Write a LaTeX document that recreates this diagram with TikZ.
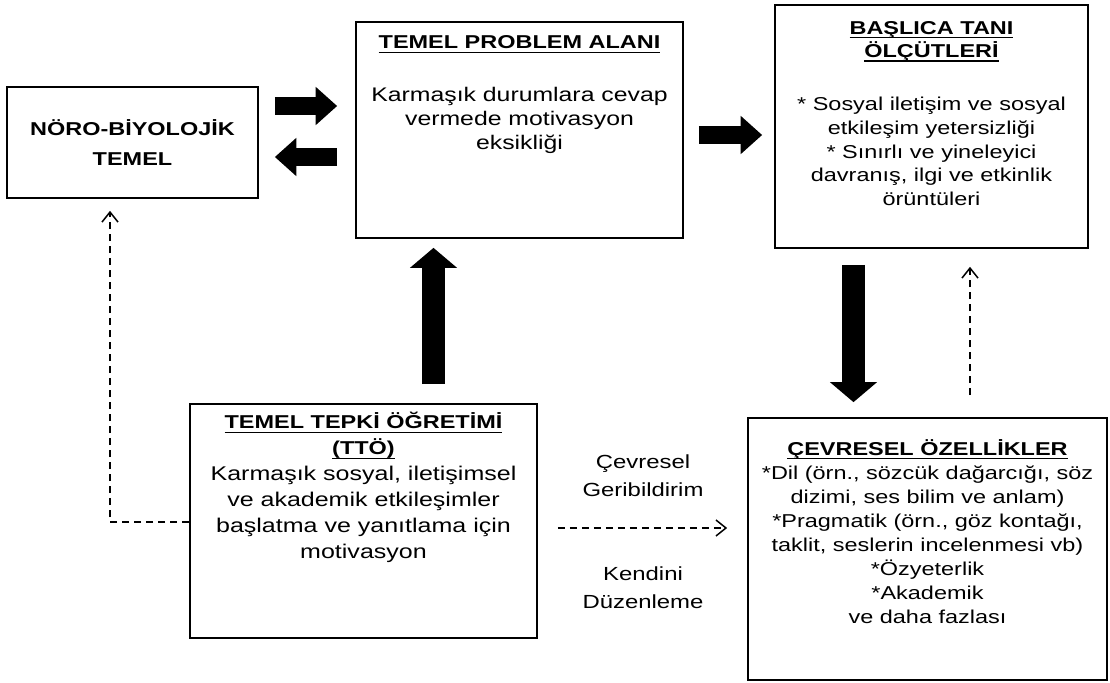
\documentclass[tikz,border=0pt]{standalone}
\usepackage{fontspec}
\setmainfont{Liberation Sans}[FakeStretch=1.26]
\usetikzlibrary{arrows.meta}
\setlength{\lineskiplimit}{-20pt}

\newsavebox{\titlebox}
\newcommand{\boxtitle}[1]{{\fontsize{10.6}{\baselineskip}\selectfont
  \sbox{\titlebox}{\textbf{#1}}\rlap{\usebox{\titlebox}}\rule[-2.3pt]{\wd\titlebox}{0.75pt}}}

\tikzset{
  frame/.style={draw, line width=1pt, inner sep=0pt},
  txt/.style={align=center, inner sep=0pt, font=\fontsize{10.6}{13.4}\selectfont},
  harrow/.style={line width=0.35cm, -{Triangle[length=0.43cm,width=0.74cm]}},
  varrow/.style={line width=0.46cm, -{Triangle[length=0.4cm,width=0.92cm]}},
  dasharrow/.style={line width=0.85pt, dash pattern=on 0.14cm off 0.1cm, -{Straight Barb[length=0.2cm,width=0.32cm]}}
}

\begin{document}
\begin{tikzpicture}[x=0.02cm, y=-0.02cm]
  \useasboundingbox (0,0) rectangle (1110,683);

  % the five boxes
  \node[frame, minimum width=5.02cm, minimum height=2.22cm, align=center,
        font=\bfseries\fontsize{10.6}{17}\selectfont] (neuro) at (132.5,142.5) {NÖRO-BİYOLOJİK\\TEMEL};
  \node[frame, minimum width=6.54cm, minimum height=4.32cm] (problem) at (519.5,130) {};
  \node[frame, minimum width=6.26cm, minimum height=4.86cm] (criteria) at (931.5,126.5) {};
  \node[frame, minimum width=6.94cm, minimum height=4.68cm] (tto) at (363.5,521) {};
  \node[frame, minimum width=7.18cm, minimum height=5.24cm] (env) at (927.5,549) {};

  % box texts
  \node[txt, anchor=north, font=\fontsize{11.2}{13.7}\selectfont] (problemtxt) at ([yshift=-0.29cm]problem.north)
    {\boxtitle{TEMEL PROBLEM ALANI}\\[16pt]Karmaşık durumlara cevap\\vermede motivasyon\\eksikliği};
  \node[txt, anchor=north] (criteriatxt) at ([yshift=-0.33cm]criteria.north)
    {\boxtitle{BAŞLICA TANI}\\\boxtitle{ÖLÇÜTLERİ}\\[17pt]{}* Sosyal iletişim ve sosyal\\etkileşim yetersizliği\\{}* Sınırlı ve yineleyici\\davranış, ilgi ve etkinlik\\örüntüleri};
  \node[txt, anchor=north, font=\fontsize{11.3}{14.8}\selectfont] (ttotxt) at ([yshift=-0.18cm]tto.north)
    {\boxtitle{TEMEL TEPKİ ÖĞRETİMİ}\\\boxtitle{(TTÖ)}\\Karmaşık sosyal, iletişimsel\\ve akademik etkileşimler\\başlatma ve yanıtlama için\\motivasyon};
  \node[txt, anchor=north, font=\fontsize{10.6}{13.7}\selectfont] (envtxt) at ([yshift=-0.44cm]env.north)
    {\boxtitle{ÇEVRESEL ÖZELLİKLER}\\{}*Dil (örn., sözcük dağarcığı, söz\\dizimi, ses bilim ve anlam)\\{}*Pragmatik (örn., göz kontağı,\\taklit, seslerin incelenmesi vb)\\{}*Özyeterlik\\{}*Akademik\\ve daha fazlası};

  % block arrows
  \coordinate (ra) at (0,106);
  \coordinate (la) at (0,157);
  \coordinate (rb) at (0,135);
  \coordinate (ua) at (433.5,0);
  \coordinate (da) at (853.5,0);
  \draw[harrow, shorten <=0.32cm, shorten >=0.36cm] (neuro.east |- ra) -- (problem.west |- ra);
  \draw[harrow, shorten <=0.36cm, shorten >=0.32cm] (problem.west |- la) -- (neuro.east |- la);
  \draw[harrow, shorten <=0.3cm, shorten >=0.24cm] (problem.east |- rb) -- (criteria.west |- rb);
  \draw[varrow, shorten <=0.38cm, shorten >=0.18cm] (tto.north -| ua) -- (problem.south -| ua);
  \draw[varrow, shorten <=0.32cm, shorten >=0.3cm] (criteria.south -| da) -- (env.north -| da);

  % dashed feedback arrows
  \coordinate (fl) at (110,522);
  \coordinate (fm) at (0,528);
  \coordinate (fu) at (970,0);
  \draw[dasharrow, shorten >=0.24cm] (tto.west |- fl) -| (neuro.south -| fl);
  \draw[dasharrow, shorten <=0.4cm, shorten >=0.4cm] (tto.east |- fm) -- (env.west |- fm);
  \draw[dasharrow, shorten <=0.44cm, shorten >=0.36cm] (env.north -| fu) -- (criteria.south -| fu);

  \node[txt, font=\fontsize{10.8}{16}\selectfont] (feedback) at (643,476) {Çevresel\\Geribildirim};
  \node[txt, font=\fontsize{10.8}{16}\selectfont] (selfreg) at (643,588) {Kendini\\Düzenleme};
\end{tikzpicture}
\end{document}
